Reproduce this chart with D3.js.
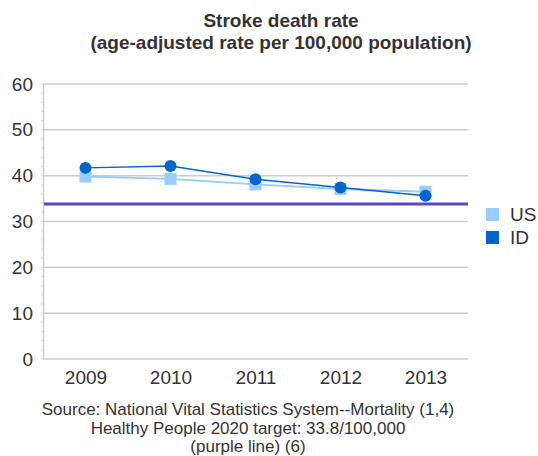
<!DOCTYPE html>
<html>
<head>
<meta charset="utf-8">
<script src="https://cdn.jsdelivr.net/npm/d3@7"></script>
<style>
  body { margin: 0; background: #fff; }
  svg { font-family: "Liberation Sans", Arial, sans-serif; }
</style>
</head>
<body>
<div id="chart"></div>
<script>
// chart data
var years = ["2009", "2010", "2011", "2012", "2013"];
var usValues = [39.8, 39.3, 38.1, 37.1, 36.5];
var idValues = [41.7, 42.1, 39.2, 37.4, 35.6];
var targetValue = 33.8;
var yTicks = [0, 10, 20, 30, 40, 50, 60];
var titleLines = ["Stroke death rate", "(age-adjusted rate per 100,000 population)"];
var sourceLines = ["Source: National Vital Statistics System--Mortality (1,4)",
                   "Healthy People 2020 target: 33.8/100,000",
                   "(purple line) (6)"];
var legendNames = ["US", "ID"];

var W = 538, H = 456;
var plot = {left: 43, right: 468, top: 84, bottom: 359};

var usColor = "#99ccff", idColor = "#0066cc", purple = "#5a48c2", textColor = "#333";

var svg = d3.select("#chart").append("svg")
            .attr("width", W)
            .attr("height", H);

var x = d3.scalePoint()
          .domain(years)
          .range([plot.left, plot.right])
          .padding(0.5);

var y = d3.scaleLinear()
          .domain([0, 60])
          .range([plot.bottom, plot.top]);

// gridlines
svg.append("g")
   .selectAll("line")
   .data(yTicks)
   .enter().append("line")
   .attr("x1", plot.left)
   .attr("x2", plot.right)
   .attr("y1", function(d) { return y(d) })
   .attr("y2", function(d) { return y(d) })
   .attr("stroke", "#cccccc")
   .attr("stroke-width", 1.5);

// minor ticks on left axis
svg.append("g")
   .selectAll("line")
   .data(d3.range(0, 61, 2))
   .enter().append("line")
   .attr("x1", plot.left - 2)
   .attr("x2", plot.left)
   .attr("y1", function(d) { return y(d) })
   .attr("y2", function(d) { return y(d) })
   .attr("stroke", "#dddddd")
   .attr("stroke-width", 1);

// y axis
var yAxis = svg.append("g")
               .attr("transform", "translate(" + plot.left + ",0)")
               .call(d3.axisLeft(y).tickValues(yTicks).tickSize(0).tickPadding(10));
yAxis.select(".domain").attr("stroke", "#cccccc").attr("stroke-width", 1.5);
yAxis.selectAll("text")
     .attr("fill", textColor)
     .style("font-size", "19px")
     .style("font-family", "Liberation Sans, Arial, sans-serif");

// x axis
var xAxis = svg.append("g")
               .attr("transform", "translate(0," + plot.bottom + ")")
               .call(d3.axisBottom(x).tickSize(0).tickPadding(12));
xAxis.select(".domain").remove();
xAxis.selectAll("text")
     .attr("fill", textColor)
     .style("font-size", "19px")
     .style("font-family", "Liberation Sans, Arial, sans-serif");

// target line
svg.append("line")
   .attr("x1", plot.left + 1)
   .attr("x2", plot.right)
   .attr("y1", y(targetValue))
   .attr("y2", y(targetValue))
   .attr("stroke", purple)
   .attr("stroke-width", 3);

var line = d3.line()
             .x(function(d, i) { return x(years[i]) })
             .y(function(d) { return y(d) });

// US series
svg.append("path")
   .datum(usValues)
   .attr("d", line)
   .attr("fill", "none")
   .attr("stroke", usColor)
   .attr("stroke-width", 2);

svg.selectAll(".us")
   .data(usValues)
   .enter().append("rect")
   .attr("class", "us")
   .attr("x", function(d, i) { return x(years[i]) - 6 })
   .attr("y", function(d) { return y(d) - 6 })
   .attr("width", 12)
   .attr("height", 12)
   .attr("fill", usColor);

// ID series
svg.append("path")
   .datum(idValues)
   .attr("d", line)
   .attr("fill", "none")
   .attr("stroke", idColor)
   .attr("stroke-width", 1.5);

svg.selectAll(".id")
   .data(idValues)
   .enter().append("circle")
   .attr("class", "id")
   .attr("cx", function(d, i) { return x(years[i]) })
   .attr("cy", function(d) { return y(d) })
   .attr("r", 6)
   .attr("fill", idColor);

// legend
var legend = svg.selectAll(".legend")
                .data(legendNames)
                .enter().append("g")
                .attr("class", "legend")
                .attr("transform", function(d, i) { return "translate(486," + (208 + i * 23) + ")" });

legend.append("rect")
      .attr("width", 13)
      .attr("height", 13)
      .attr("fill", function(d, i) { return i == 0 ? usColor : idColor });

legend.append("text")
      .attr("x", 24)
      .attr("y", 13)
      .attr("fill", textColor)
      .style("font-size", "19px")
      .text(function(d) { return d });

// title
svg.append("g")
   .selectAll("text")
   .data(titleLines)
   .enter().append("text")
   .attr("x", 281)
   .attr("y", function(d, i) { return 27 + i * 22 })
   .attr("text-anchor", "middle")
   .attr("fill", textColor)
   .style("font-size", "19px")
   .style("font-weight", "bold")
   .text(function(d) { return d });

// source note
svg.append("g")
   .selectAll("text")
   .data(sourceLines)
   .enter().append("text")
   .attr("x", 248)
   .attr("y", function(d, i) { return 415 + i * 18.5 })
   .attr("text-anchor", "middle")
   .attr("fill", textColor)
   .style("font-size", "17px")
   .text(function(d) { return d });
</script>
</body>
</html>
